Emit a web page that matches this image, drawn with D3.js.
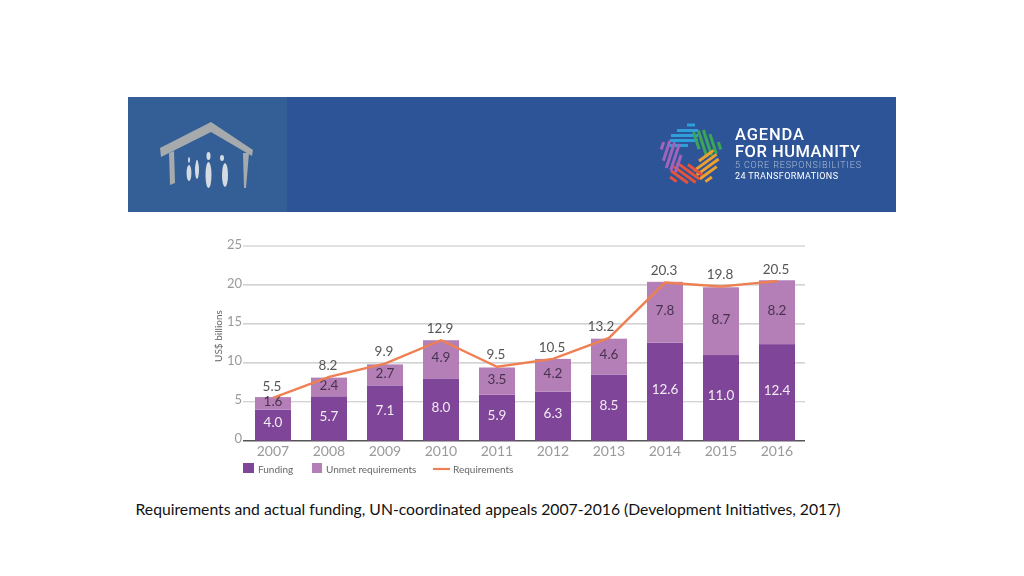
<!DOCTYPE html>
<html><head><meta charset="utf-8">
<script src="https://cdnjs.cloudflare.com/ajax/libs/d3/7.8.5/d3.min.js"></script>
<style>html,body{margin:0;padding:0;background:#fff}svg{display:block}text{font-family:Lato,sans-serif}</style>
</head><body><svg id="c" width="1024" height="576"></svg>
<script>
const years=["2007","2008","2009","2010","2011","2012","2013","2014","2015","2016"];
const funding=[4.0,5.7,7.1,8.0,5.9,6.3,8.5,12.6,11.0,12.4];
const unmet=[1.6,2.4,2.7,4.9,3.5,4.2,4.6,7.8,8.7,8.2];
const requirements=[5.5,8.2,9.9,12.9,9.5,10.5,13.2,20.3,19.8,20.5];
const yTicks=[0,5,10,15,20,25];
const legendLabels=["Funding","Unmet requirements","Requirements"];
const logoLines=["AGENDA","FOR HUMANITY","5 CORE RESPONSIBILITIES","24 TRANSFORMATIONS"];
const caption="Requirements and actual funding, UN-coordinated appeals 2007-2016 (Development Initiatives, 2017)";
const starColors=["#2f9fd8","#3aa655","#eea02e","#e5533d","#a264bb"];
const starStripes=[[-30,-4,4],[-24.5,-14,7],[-19.5,-20,7],[-14.5,-21,7],[-9.5,-21,-3]];
const housePolys=[
 [[160,148],[211,122],[253,150],[252,156],[211,132],[161,157]],
 [[169,153],[174,151],[175,183],[170,185]],
 [[243,153],[249,153],[246,188],[244,188]]];
const people=[[189,173,2.4,8],[197,170,2,9],[208.5,175,3,13],[225,175,3,12]];
const heads=[[189,160,1,3],[197,162,1,2],[208.5,156,2,4],[222,158,2,3]];

const svg=d3.select("#c");
const defs=svg.append("defs");
defs.append("filter").attr("id","soft").append("feGaussianBlur").attr("stdDeviation",0.45);

// banner
svg.append("rect").attr("x",128).attr("y",97).attr("width",768).attr("height",115).attr("fill","#2c5496");
svg.append("rect").attr("x",128).attr("y",97).attr("width",159).attr("height",115).attr("fill","#335f96");
const logo=svg.append("g").attr("filter","url(#soft)");
logo.selectAll("polygon").data(housePolys).join("polygon")
 .attr("points",d=>d.join(" ")).attr("fill","#a6aaad");
logo.selectAll("ellipse.b").data(people.concat(heads)).join("ellipse")
 .attr("cx",d=>d[0]).attr("cy",d=>d[1]).attr("rx",d=>d[2]).attr("ry",d=>d[3]).attr("fill","#d5dbe2");
const star=logo.append("g").attr("transform","translate(691,155)");
starColors.forEach((col,i)=>{
 star.append("g").attr("transform",`rotate(${i*72})`).selectAll("line").data(starStripes).join("line")
  .attr("x1",d=>d[1]).attr("x2",d=>d[2]).attr("y1",d=>d[0]).attr("y2",d=>d[0])
  .attr("stroke",col).attr("stroke-width",3);
});
const lg=[[139.8,16.5,500],[156.8,16.5,500],[168,9,300],[179,9,400]];
logo.selectAll("text.l").data(logoLines).join("text")
 .attr("x",735).attr("y",(d,i)=>lg[i][0]).attr("font-size",(d,i)=>lg[i][1]).attr("font-weight",(d,i)=>lg[i][2])
 .attr("fill",(d,i)=>i==2?"#aebdd6":"#fff").style("font-family","Roboto")
 .attr("textLength",(d,i)=>[69,125,126,103][i]).attr("lengthAdjust","spacing").text(d=>d);

// chart
const x=d3.scaleBand().domain(years).range([245,805]).paddingInner(0.357).paddingOuter(0.1785);
const y=d3.scaleLinear().domain([0,25]).range([440.7,246]);
const g=svg.append("g").attr("filter","url(#soft)");
g.selectAll("line.grid").data(yTicks).join("line").attr("class","grid")
 .attr("x1",243).attr("x2",805).attr("y1",d=>y(d)).attr("y2",d=>y(d))
 .attr("stroke",d=>d===0?"#555":"#c4c4c4").attr("stroke-width",d=>d===0?1.6:1.2);
g.selectAll("text.yt").data(yTicks).join("text").attr("class","yt")
 .attr("x",242).attr("y",d=>y(d)).attr("dy","0.2em").attr("text-anchor","end")
 .attr("font-size",13).attr("fill","#9a9a9a").text(d=>d);
g.append("text").attr("transform","translate(222,336) rotate(-90)").attr("text-anchor","middle")
 .attr("font-size",10).attr("fill","#666").text("US$ billions");
g.selectAll("text.xt").data(years).join("text").attr("class","xt")
 .attr("x",d=>x(d)+x.bandwidth()/2).attr("y",456).attr("text-anchor","middle")
 .attr("font-size",14).attr("fill","#9a9a9a").text(d=>d);
const band=g.selectAll("g.b").data(years).join("g").attr("class","b");
band.append("rect").attr("x",d=>x(d)).attr("width",x.bandwidth())
 .attr("y",(d,i)=>y(funding[i])).attr("height",(d,i)=>y(0)-y(funding[i])).attr("fill","#7f4498");
band.append("rect").attr("x",d=>x(d)).attr("width",x.bandwidth())
 .attr("y",(d,i)=>y(funding[i]+unmet[i])).attr("height",(d,i)=>y(funding[i])-y(funding[i]+unmet[i])).attr("fill","#b37fb6");
const cx=d=>x(d)+x.bandwidth()/2;
g.append("path").datum(years).attr("fill","none").attr("stroke","#ee8052").attr("stroke-width",2.4)
 .attr("d",d3.line().x(cx).y((d,i)=>y(requirements[i])));
band.append("text").attr("x",cx).attr("y",(d,i)=>y(funding[i]/2)-2.5).attr("dy","0.35em").attr("text-anchor","middle")
 .attr("font-size",13.5).attr("fill","#f3ecf5").text((d,i)=>funding[i].toFixed(1));
band.append("text").attr("x",cx).attr("y",(d,i)=>y(funding[i]+unmet[i]/2)-2).attr("dy","0.35em").attr("text-anchor","middle")
 .attr("font-size",13.5).attr("fill","#4a3350").text((d,i)=>unmet[i].toFixed(1));
band.append("text").attr("x",(d,i)=>cx(d)-(i==6?8:1)).attr("y",(d,i)=>y(requirements[i])-12).attr("dy","0.35em").attr("text-anchor","middle")
 .attr("font-size",13.5).attr("fill","#555").text((d,i)=>requirements[i].toFixed(1));
// legend
const lx=[258,326,453];
g.append("rect").attr("x",243).attr("y",463).attr("width",11).attr("height",10).attr("fill","#7f4498");
g.append("rect").attr("x",312).attr("y",463).attr("width",10).attr("height",10).attr("fill","#b37fb6");
g.append("line").attr("x1",433).attr("x2",450).attr("y1",469).attr("y2",469).attr("stroke","#ee8052").attr("stroke-width",2.2);
g.selectAll("text.lg").data(legendLabels).join("text").attr("class","lg")
 .attr("x",(d,i)=>lx[i]).attr("y",473).attr("font-size",10).attr("fill","#666").text(d=>d);
// caption
svg.append("text").attr("x",135.5).attr("y",515).attr("font-size",15.73).attr("fill","#111").text(caption);
</script></body></html>
